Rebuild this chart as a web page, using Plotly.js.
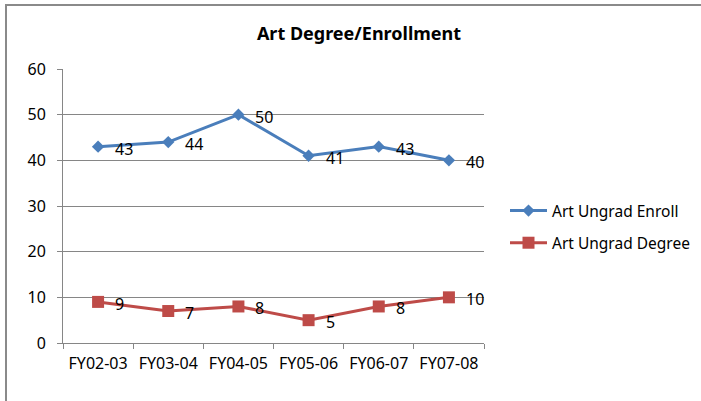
<!DOCTYPE html>
<html>
<head>
<meta charset="utf-8">
<script src="https://cdn.plot.ly/plotly-3.0.1.min.js"></script>
<style>html,body{margin:0;padding:0;background:#fff;}#chart{width:701px;height:401px;}</style>
</head>
<body>
<div id="chart"></div>
<script>
var categories = ["FY02-03", "FY03-04", "FY04-05", "FY05-06", "FY06-07", "FY07-08"];
var enrollName = "Art Ungrad Enroll";
var enrollValues = [43, 44, 50, 41, 43, 40];
var degreeName = "Art Ungrad Degree";
var degreeValues = [9, 7, 8, 5, 8, 10];
var yTicks = [0, 10, 20, 30, 40, 50, 60];
var chartTitle = "Art Degree/Enrollment";

var FONT = "Noto Sans, Open Sans, sans-serif";
var BLUE = "#4A7EBB", RED = "#BE4B48", GREY = "#868686";

var traces = [
  {x: categories, y: enrollValues, name: enrollName, type: "scatter", mode: "lines+markers",
   line: {color: BLUE, width: 3}, marker: {symbol: "diamond", size: 9.5, color: BLUE},
   legendgroup: "a", cliponaxis: false},
  {x: categories, y: degreeValues, name: degreeName, type: "scatter", mode: "lines+markers",
   line: {color: RED, width: 3}, marker: {symbol: "square", size: 12, color: RED},
   legendgroup: "b", cliponaxis: false}
];

var annotations = [];
function addLabels(vals) {
  vals.forEach(function (v, i) {
    annotations.push({x: categories[i], y: v, xref: "x", yref: "y", text: String(v),
      showarrow: false, xanchor: "left", yanchor: "middle", xshift: 15, yshift: -2,
      font: {family: FONT, size: 16, color: "#000"}});
  });
}
addLabels(enrollValues);
addLabels(degreeValues);

// px -> paper helpers for decorations
var L = 63, R = 217, T = 69, B = 58, W = 701, H = 401;
var pw = W - L - R, ph = H - T - B;
function px2x(p) { return (p - L) / pw; }
function py2y(p) { return (H - B - p) / ph; }

var layout = {
  width: W, height: H,
  margin: {l: L, r: R, t: T, b: B, pad: 0, autoexpand: false},
  paper_bgcolor: "#fff", plot_bgcolor: "#fff",
  font: {family: FONT, size: 16, color: "#000"},
  title: {text: chartTitle, font: {family: FONT, size: 18, color: "#000", weight: "bold"},
          xref: "paper", x: px2x(359), xanchor: "center", yref: "container", y: 1 - 34 / H, yanchor: "middle"},
  xaxis: {type: "category", range: [-0.5, 5.5], showgrid: false, showline: true, linecolor: GREY, linewidth: 1,
          ticks: "outside", tickson: "boundaries", ticklen: 5, tickcolor: GREY, ticklabelstandoff: 6,
          fixedrange: true, zeroline: false},
  yaxis: {range: [0, 60], tickvals: yTicks, showgrid: true, gridcolor: GREY, gridwidth: 1,
          showline: true, linecolor: GREY, linewidth: 1, ticks: "outside", ticklen: 5, tickcolor: GREY,
          ticklabelstandoff: 8, zeroline: false, fixedrange: true},
  showlegend: true,
  legend: {x: px2x(505), xanchor: "left", y: py2y(194), yanchor: "top", tracegroupgap: 9,
           font: {family: FONT, size: 15.5, color: "#000"}, itemwidth: 37, bgcolor: "rgba(0,0,0,0)"},
  annotations: annotations,
  shapes: [
    {type: "line", xref: "paper", yref: "paper", x0: px2x(6), x1: px2x(720), y0: py2y(5), y1: py2y(5),
     line: {color: "#8a8a8a", width: 2}},
    {type: "line", xref: "paper", yref: "paper", x0: px2x(6), x1: px2x(6), y0: py2y(4), y1: py2y(420),
     line: {color: "#8a8a8a", width: 2}}
  ]
};

Plotly.newPlot("chart", traces, layout, {displayModeBar: false, staticPlot: true});
</script>
</body>
</html>
